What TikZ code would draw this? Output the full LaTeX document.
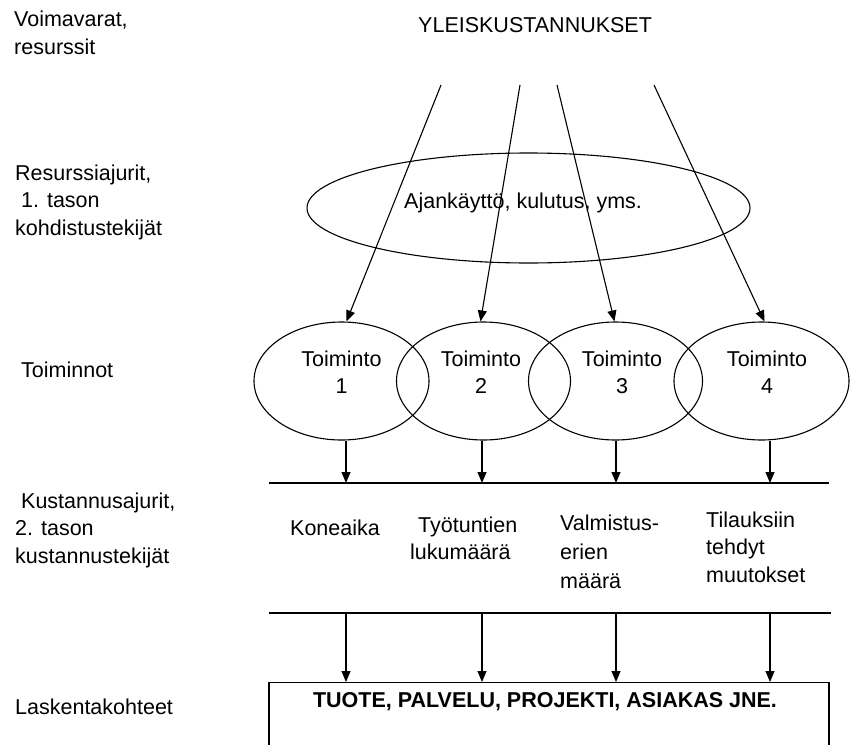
\documentclass[tikz,border=0pt]{standalone}
\usepackage{fontspec}
\setmainfont{Liberation Sans}
\usetikzlibrary{arrows.meta,shapes.geometric}
\begin{document}
\begin{tikzpicture}[x=1pt,y=-1pt,
  every node/.style={font=\fontsize{21.5}{27.5}\selectfont, inner sep=0pt},
  ell/.style={draw, ellipse, line width=1.1pt, inner sep=0pt},
  arr/.style={line width=1.1pt, -{Triangle[length=11pt,width=9pt]}},
  ln/.style={line width=1.2pt},
  lab/.style={anchor=base west},
  ctr/.style={anchor=base}
]
\useasboundingbox (0,0) rectangle (851,744);
\clip (0,0) rectangle (851,744);

% left column labels
\node[lab] (voim) at (14,27) {\begin{tabular}[t]{@{}l@{}}Voimavarat,\\resurssit\end{tabular}};
\node[lab] (resaj) at (15,180) {\begin{tabular}[t]{@{}l@{}}Resurssiajurit,\\\ 1. tason\\kohdistustekijät\end{tabular}};
\node[lab] (toimt) at (21,377) {Toiminnot};
\node[lab] (kustaj) at (15,508) {\begin{tabular}[t]{@{}l@{}}\ Kustannusajurit,\\2. tason\\kustannustekijät\end{tabular}};
\node[lab] (lask) at (15,714) {Laskentakohteet};

% header
\node[lab] (yk) at (418,32) {YLEISKUSTANNUKSET};
\coordinate (s1) at (441,85);
\coordinate (s2) at (520,85);
\coordinate (s3) at (557,85);
\coordinate (s4) at (654,85);

% resource driver ellipse
\node[ell, minimum width=443pt, minimum height=110pt] (res) at (528.5,208) {};
\node[lab] (restxt) at (404,208) {Ajankäyttö, kulutus, yms.};

% activities
\node[ell, minimum width=175pt, minimum height=118pt] (t1) at (341.5,381) {};
\node[ell, minimum width=174pt, minimum height=118pt] (t2) at (483.5,381) {};
\node[ell, minimum width=174pt, minimum height=118pt] (t3) at (615.5,381) {};
\node[ell, minimum width=175pt, minimum height=118pt] (t4) at (761.5,381) {};
\node[ctr] (t1txt) at (341.5,366) {\begin{tabular}[t]{@{}c@{}}Toiminto\\1\end{tabular}};
\node[ctr] (t2txt) at (481,366) {\begin{tabular}[t]{@{}c@{}}Toiminto\\2\end{tabular}};
\node[ctr] (t3txt) at (622,366) {\begin{tabular}[t]{@{}c@{}}Toiminto\\3\end{tabular}};
\node[ctr] (t4txt) at (767,366) {\begin{tabular}[t]{@{}c@{}}Toiminto\\4\end{tabular}};

% arrows from overhead to activities
\draw[arr] (s1) -- ([xshift=5pt]t1.north);
\draw[arr] (s2) -- ([xshift=-3pt]t2.north);
\draw[arr] (s3) -- ([xshift=-1pt]t3.north);
\draw[arr] (s4) -- ([xshift=3pt]t4.north);

% first horizontal line
\coordinate (l1a) at (269,483);
\coordinate (l1b) at (829,483);
\draw[ln] (l1a) -- (l1b);
\coordinate (k1) at (346,483);
\coordinate (k2) at (482,483);
\coordinate (k3) at (616,483);
\coordinate (k4) at (770,483);
\draw[arr] (t1.south -| k1) -- (k1);
\draw[arr] (t2.south -| k2) -- (k2);
\draw[arr] (t3.south -| k3) -- (k3);
\draw[arr] (t4.south -| k4) -- (k4);

% cost drivers
\node[lab] (kone) at (290,535) {Koneaika};
\node[lab] (tyot) at (410,532) {\begin{tabular}[t]{@{}l@{}}\hspace*{8pt}Työtuntien\\lukumäärä\end{tabular}};
\node[lab, font=\fontsize{21.5}{29}\selectfont] (valm) at (560,530) {\begin{tabular}[t]{@{}l@{}}Valmistus-\\erien\\määrä\end{tabular}};
\node[lab] (tila) at (706,527) {\begin{tabular}[t]{@{}l@{}}Tilauksiin\\tehdyt\\muutokset\end{tabular}};

% second horizontal line
\coordinate (l2a) at (269,613);
\coordinate (l2b) at (831,613);
\draw[ln] (l2a) -- (l2b);
\coordinate (m1) at (346,613);
\coordinate (m2) at (482,613);
\coordinate (m3) at (616,613);
\coordinate (m4) at (770,613);

% cost objects box
\node[draw, line width=1.2pt, minimum width=560pt, minimum height=120pt, anchor=north] (box) at (549,682) {};
\node[ctr] (boxtxt) at (545,707) {\textbf{TUOTE, PALVELU, PROJEKTI, ASIAKAS JNE.}};

\draw[arr] (m1) -- (m1 |- box.north);
\draw[arr] (m2) -- (m2 |- box.north);
\draw[arr] (m3) -- (m3 |- box.north);
\draw[arr] (m4) -- (m4 |- box.north);
\end{tikzpicture}
\end{document}
